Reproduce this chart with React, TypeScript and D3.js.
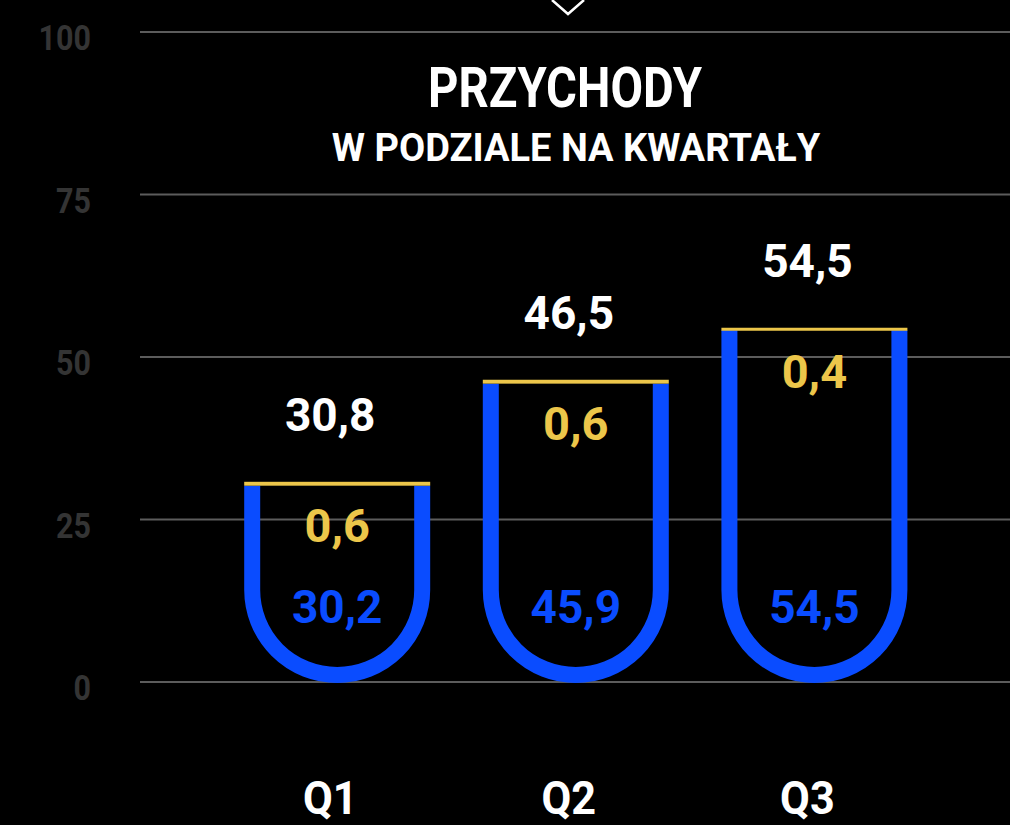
import React, { useEffect } from "react";
import * as d3 from "d3";

const categories = ["Q1", "Q2", "Q3"];
const totalValues = [30.8, 46.5, 54.5];
const yellowValues = [0.6, 0.6, 0.4];
const blueValues = [30.2, 45.9, 54.5];
const yTicks = [0, 25, 50, 75, 100];
const titleText = "PRZYCHODY";
const subtitleText = "W PODZIALE NA KWARTAŁY";

const W = 1010;
const H = 825;
const BLUE = "#0a4cff";
const YELLOW = "#ecc64a";
const FONT = "Roboto, 'DejaVu Sans', sans-serif";

const fmt = (v: number) => d3.format(".1f")(v).replace(".", ",");

function SText(props: {
  x: number;
  y: number;
  sx?: number;
  anchor?: string;
  fill: string;
  size: number;
  children: React.ReactNode;
}) {
  const { x, y, sx = 1, anchor = "middle", fill, size, children } = props;
  return (
    <text
      transform={`translate(${x},${y}) scale(${sx},1)`}
      textAnchor={anchor}
      fill={fill}
      fontSize={size}
      fontWeight={700}
    >
      {children}
    </text>
  );
}

export default function App() {
  useEffect(() => {
    document.body.style.margin = "0";
    document.body.style.background = "#000";
  }, []);

  const y = d3.scaleLinear().domain([0, 100]).range([682, 32]);
  const x = d3
    .scaleBand<string>()
    .domain(categories)
    .range([244.2, 907.4])
    .paddingInner(0.2205)
    .paddingOuter(0);
  const bw = x.bandwidth();
  const sw = 16;

  return (
    <svg
      width={W}
      height={H}
      style={{ position: "absolute", left: 0, top: 0, background: "#000", display: "block" }}
      fontFamily={FONT}
    >
      <rect x={0} y={0} width={W} height={H} fill="#000" />
      {yTicks.map((t) => (
        <g key={t}>
          <line x1={140} x2={W} y1={y(t)} y2={y(t)} stroke="#5c5c5c" strokeWidth={2} />
          <SText x={91} y={y(t) + 18} sx={0.87} anchor="end" fill="#343434" size={35}>
            {t}
          </SText>
        </g>
      ))}
      <polyline points="552,0 568,14 584,0" fill="none" stroke="#fff" strokeWidth={2.5} />
      <SText x={565} y={107} sx={0.86} fill="#fff" size={55}>
        {titleText}
      </SText>
      <SText x={576} y={161} sx={1} fill="#fff" size={38}>
        {subtitleText}
      </SText>
      {categories.map((c, i) => {
        const x0 = x(c) as number;
        const x1 = x0 + bw;
        const cx = x0 + bw / 2;
        const R = bw / 2;
        const rc = R - sw / 2;
        const yTop = y(totalValues[i]);
        const yBandBottom = y(totalValues[i] - yellowValues[i]);
        const yB = y(0) + 1;
        const p = d3.path();
        p.moveTo(cx - rc, yBandBottom);
        p.lineTo(cx - rc, yB - R);
        p.arc(cx, yB - R, rc, Math.PI, 0, true);
        p.lineTo(cx + rc, yBandBottom);
        return (
          <g key={c}>
            <path d={p.toString()} fill="none" stroke={BLUE} strokeWidth={sw} />
            <rect x={x0} y={yTop} width={bw} height={Math.max(3, yBandBottom - yTop)} fill={YELLOW} />
            <SText x={cx - 7} y={yTop - 51} fill="#fff" size={46}>
              {fmt(totalValues[i])}
            </SText>
            <SText x={cx} y={yTop + 60} fill={YELLOW} size={47}>
              {fmt(yellowValues[i])}
            </SText>
            <SText x={cx} y={y(0) - 59} fill={BLUE} size={46}>
              {fmt(blueValues[i])}
            </SText>
            <SText x={cx - 7} y={814} sx={0.92} fill="#fff" size={47}>
              {c}
            </SText>
          </g>
        );
      })}
    </svg>
  );
}
